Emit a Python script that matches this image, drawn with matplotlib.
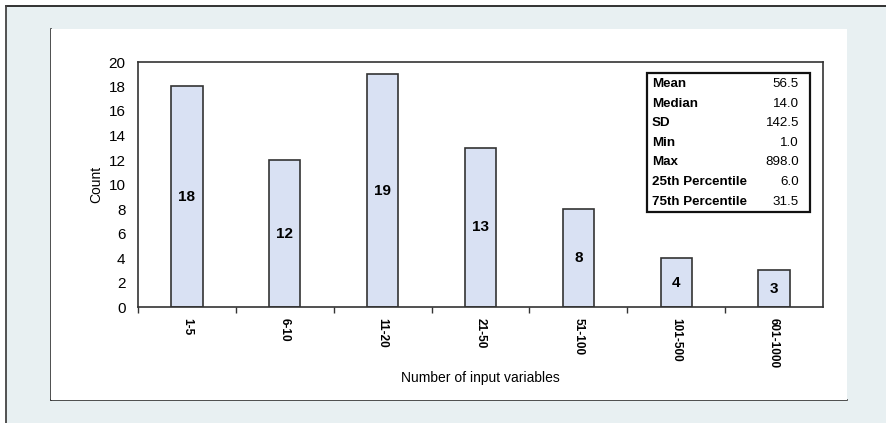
import matplotlib
matplotlib.use("Agg")
import matplotlib.pyplot as plt
from matplotlib.patches import Rectangle

plt.rcParams['font.family'] = ['Liberation Sans', 'DejaVu Sans']

categories = ["1-5", "6-10", "11-20", "21-50", "51-100", "101-500", "601-1000"]
counts = [18, 12, 19, 13, 8, 4, 3]
stat_names = ["Mean", "Median", "SD", "Min", "Max", "25th Percentile", "75th Percentile"]
stat_values = ["56.5", "14.0", "142.5", "1.0", "898.0", "6.0", "31.5"]

W, H = 887, 423
fig = plt.figure(figsize=(W / 100, H / 100), dpi=100)
fig.patch.set_facecolor("white")

def fx(px):
    return px / W

def fy(py):
    return 1 - py / H

# outer tinted frame with dark top/left border
fig.patches.append(Rectangle((fx(6), 0), 1 - fx(6), fy(6), transform=fig.transFigure,
                             facecolor="#e8f0f2", edgecolor="none", zorder=-2))
fig.lines.append(plt.Line2D([fx(6), 1], [fy(6), fy(6)], transform=fig.transFigure,
                            color="#222222", lw=1.3, zorder=-1))
fig.lines.append(plt.Line2D([fx(6), fx(6)], [fy(6), 0], transform=fig.transFigure,
                            color="#444444", lw=1.3, zorder=-1))

# white chart panel with left/bottom border
fig.patches.append(Rectangle((fx(51), fy(400)), fx(847) - fx(51), fy(29) - fy(400),
                             transform=fig.transFigure, facecolor="white",
                             edgecolor="none", zorder=-1))
fig.lines.append(plt.Line2D([fx(51), fx(51)], [fy(29), fy(400)], transform=fig.transFigure,
                            color="#333333", lw=1.2, zorder=-1))
fig.lines.append(plt.Line2D([fx(51), fx(847)], [fy(400), fy(400)], transform=fig.transFigure,
                            color="#333333", lw=1.2, zorder=-1))

ax = fig.add_axes([fx(138), fy(307), fx(823) - fx(138), fy(62) - fy(307)])
ax.set_zorder(2)
ax.set_facecolor("white")

x = list(range(len(categories)))
ax.bar(x, counts, width=0.32, color="#d9e1f3", edgecolor="#333333", linewidth=1.2, zorder=2)

for xi, c in zip(x, counts):
    ax.text(xi, c / 2, str(c), ha="center", va="center", fontsize=11,
            fontweight="bold", color="black", zorder=3)

ax.set_xlim(-0.5, len(categories) - 0.5)
ax.set_ylim(0, 20)
ax.set_yticks(range(0, 21, 2))
ax.tick_params(axis="y", length=0, pad=9, labelsize=11)

ax.set_xticks(x)
ax.set_xticklabels(categories, rotation=-90, fontsize=8.5, fontweight="bold")
ax.tick_params(axis="x", which="major", length=0, pad=8)
ax.set_xticks([i - 0.5 for i in range(len(categories))], minor=True)
ax.tick_params(axis="x", which="minor", length=4, width=1, color="#333333", direction="out")

for s in ax.spines.values():
    s.set_color("#333333")
    s.set_linewidth(1.2)

ax.set_ylabel("Count", fontsize=10, labelpad=4)
ax.set_xlabel("Number of input variables", fontsize=10, labelpad=2)

# summary statistics box
bx0, bx1 = (647 - 138) / 685, (810 - 138) / 685
by1, by0 = 1 - (73 - 62) / 245, 1 - (212 - 62) / 245
ax.add_patch(Rectangle((bx0, by0), bx1 - bx0, by1 - by0, transform=ax.transAxes,
                       facecolor="white", edgecolor="#111111", linewidth=1.6, zorder=4))
row_top = 1 - (84 - 62) / 245
row_step = 19.6 / 245
for i, (n, v) in enumerate(zip(stat_names, stat_values)):
    yy = row_top - i * row_step
    ax.text((652 - 138) / 685, yy, n, transform=ax.transAxes, ha="left", va="center",
            fontsize=9.6, fontweight="bold", zorder=5)
    ax.text((799 - 138) / 685, yy, v, transform=ax.transAxes, ha="right", va="center",
            fontsize=9.6, zorder=5)

fig.savefig("out.png", dpi=100, facecolor=fig.get_facecolor())
